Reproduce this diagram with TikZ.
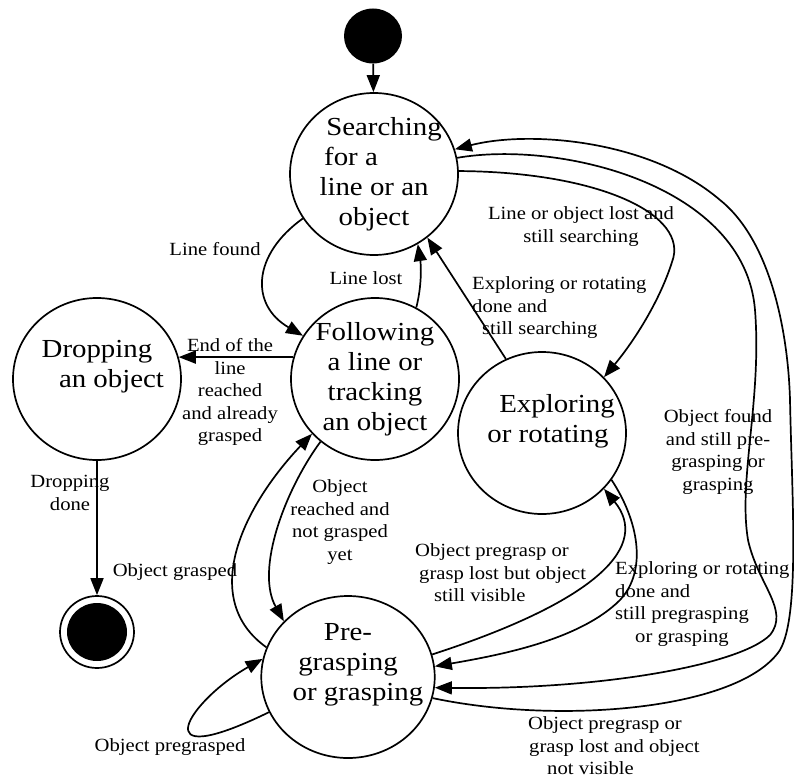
\documentclass[tikz,border=0pt]{standalone}
\usepackage{fontspec}
\setmainfont{Liberation Serif}[FakeStretch=1.11]
\usetikzlibrary{arrows.meta,shapes.geometric}
\newcommand\lblsize{\fontsize{18.6}{22.5}\selectfont}
\newcommand\stsize{\fontsize{26}{30}\selectfont}
\begin{document}
\begin{tikzpicture}[x=1pt,y=-1pt,
  state/.style={draw, ellipse, line width=1.7pt, inner sep=-14pt,
    minimum width=168pt, minimum height=162pt, align=center, font=\stsize},
  lbl/.style={inner sep=0pt, align=center, anchor=north, font=\lblsize},
  lbll/.style={inner sep=0pt, align=left, anchor=north west, font=\lblsize},
  tr/.style={line width=1.7pt, -{Triangle[length=17pt,width=13pt]}},
]
\useasboundingbox (0,0) rectangle (794,778);

% states
\node[ellipse, fill=black, minimum width=58pt, minimum height=55pt, inner sep=0pt] (init) at (373,36) {};
\node[state] (search) at (374,174) {\hspace*{20pt}Searching\\for a\hspace*{46pt}\mbox{}\\line or an\\object};
\node[state] (follow) at (375,379) {Following\\a line or\\tracking\\an object};
\node[state] (drop) at (97,379) {Dropping\\\hspace*{29pt}an object\\\mbox{}};
\node[state] (explore) at (542,433) {\hspace*{30pt}Exploring\\\hspace*{12pt}or rotating\\\mbox{}};
\node[state] (pre) at (348,677) {Pre-\\grasping\\\hspace*{20pt}or grasping\\\mbox{}};
\node[draw, ellipse, line width=1.7pt, minimum width=74pt, minimum height=72pt, inner sep=0pt] (final) at (97,632) {};
\node[ellipse, fill=black, minimum width=60pt, minimum height=58pt, inner sep=0pt] (finalin) at (final) {};

% transitions
\draw[tr] (init) -- (search);
\draw[tr] (search.212) .. controls (252,255) and (250,305) .. (follow.149);
\draw[tr] (follow.60) .. controls (422,285) and (421,265) .. (search.302);
\draw[tr] (explore.116) -- (search.310);
\draw[tr] (search.2) .. controls (600,172) and (690,215) .. (672,262)
   .. controls (660,300) and (635,340) .. (explore.42);
\draw[tr] (search.11) .. controls (560,140) and (745,185) .. (755,310)
   .. controls (762,400) and (738,480) .. (748,540)
   .. controls (758,585) and (790,610) .. (770,635)
   .. controls (740,665) and (600,690) .. (pre.353);
\draw[tr] (pre.346) .. controls (560,725) and (740,710) .. (780,650)
   .. controls (800,615) and (792,500) .. (790,400)
   .. controls (788,330) and (770,240) .. (720,200)
   .. controls (650,140) and (530,130) .. (search.17);
\draw[tr] (pre.15) .. controls (600,600) and (650,545) .. (explore.318);
\draw[tr] (explore.326) .. controls (638,520) and (648,570) .. (620,600)
   .. controls (580,640) and (500,655) .. (pre.7);
\draw[tr] (follow.165) -- (drop.15);
\draw[tr] (drop.south) -- (final.north);
\draw[tr] (pre.160) .. controls (200,600) and (240,510) .. (follow.221);
\draw[tr] (follow.229) .. controls (285,490) and (255,570) .. (pre.139);
\draw[tr] (pre.204) .. controls (140,775) and (190,700) .. (pre.168);

% labels
\node[lbl] (lfound) at (215,240) {\strut Line found};
\node[lbl] (llost) at (366,269) {\strut Line lost};
\node[lbl] (llostsearch) at (581,204) {\strut Line or object lost and\\still searching};
\node[lbll] (lexdone) at (472,274) {\strut Exploring or rotating\\done and\\\hspace*{10pt}still searching};
\node[lbl] (lend) at (230,336) {\strut End of the\\line\\reached\\and already\\grasped};
\node[lbl] (ldropdone) at (70,472) {\strut Dropping\\done};
\node[lbl] (lgrasped) at (175,561) {\strut Object grasped};
\node[lbl] (lreached) at (340,477) {\strut Object\\reached and\\not grasped\\yet};
\node[lbll] (lvisible) at (415,541) {\strut Object pregrasp or\\\hspace*{4pt}grasp lost but object\\\hspace*{19pt}still visible};
\node[lbl] (lfound2) at (718,407) {\strut Object found\\and still pre-\\grasping or\\grasping};
\node[lbll] (lexdone2) at (615,559) {\strut Exploring or rotating\\done and\\still pregrasping\\\hspace*{20pt}or grasping};
\node[lbll] (lnotvis) at (528,714) {\strut Object pregrasp or\\\hspace*{1pt}grasp lost and object\\\hspace*{19pt}not visible};
\node[lbl] (lpregrasped) at (170,736) {\strut Object pregrasped};
\end{tikzpicture}
\end{document}
